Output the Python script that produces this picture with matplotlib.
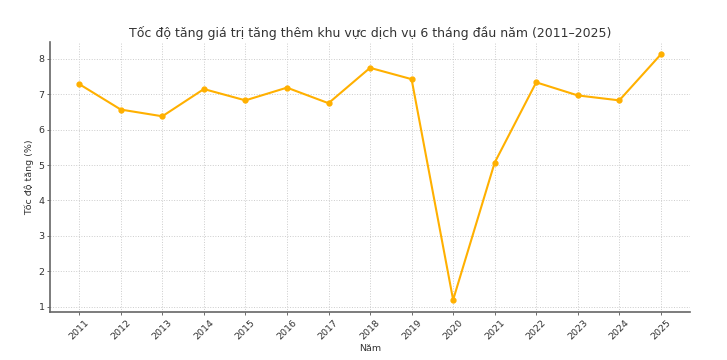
import matplotlib
matplotlib.use("Agg")
import matplotlib.pyplot as plt

years = [2011, 2012, 2013, 2014, 2015, 2016, 2017, 2018, 2019, 2020, 2021, 2022, 2023, 2024, 2025]
growth = [7.29, 6.57, 6.38, 7.15, 6.83, 7.19, 6.75, 7.75, 7.43, 1.19, 5.07, 7.34, 6.97, 6.83, 8.13]

title = "Tốc độ tăng giá trị tăng thêm khu vực dịch vụ 6 tháng đầu năm (2011–2025)"
xlabel = "Năm"
ylabel = "Tốc độ tăng (%)"

fig = plt.figure(figsize=(7.27, 3.6), dpi=100)
ax = fig.add_axes([0.069, 0.133, 0.88, 0.75])

ax.plot(years, growth, color="#FFB000", marker="o", markersize=3.5, linewidth=1.5)

ax.set_xticks(years)
ax.set_xticklabels([str(y) for y in years], rotation=45, fontsize=6.8)
ax.tick_params(axis="y", labelsize=6.8)
ax.tick_params(axis="both", colors="#555555", length=2, width=0.6, pad=2)
for lbl in ax.get_xticklabels() + ax.get_yticklabels():
    lbl.set_color("#333333")

ax.grid(True, linestyle=":", color="#cccccc", linewidth=0.7)
ax.set_axisbelow(True)
for s in ["top", "right"]:
    ax.spines[s].set_visible(False)
for s in ["left", "bottom"]:
    ax.spines[s].set_color("#666666")
    ax.spines[s].set_linewidth(1.2)

ax.set_title(title, fontsize=9, color="#333333", pad=4)
ax.set_xlabel(xlabel, fontsize=6.8, color="#333333", labelpad=2)
ax.set_ylabel(ylabel, fontsize=6.8, color="#333333", labelpad=3)

fig.savefig("out.png", dpi=100)
